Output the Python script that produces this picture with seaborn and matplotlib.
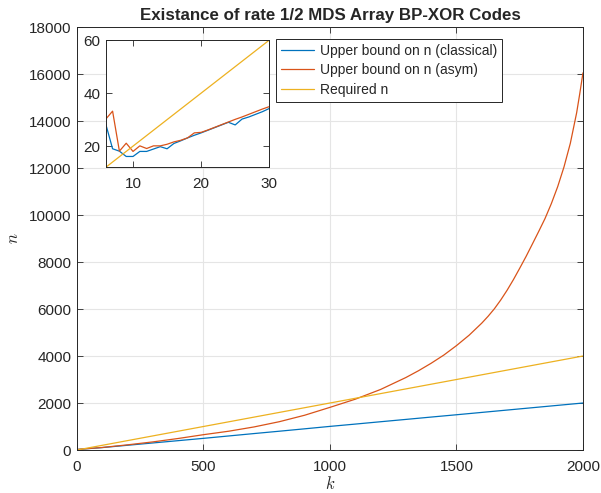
"""
Existance of rate 1/2 MDS Array BP-XOR Codes -- bound comparison with zoomed inset.
"""
import numpy as np
import pandas as pd
import matplotlib
matplotlib.use("Agg")
import matplotlib.pyplot as plt
import seaborn as sns

# ─── Data ────────────────────────────────────────────────────────────────────

k_main = [6, 100, 200, 300, 400, 500, 600, 700, 800, 900, 1000, 1100, 1200,
          1300, 1350, 1400, 1450, 1500, 1550, 1600, 1625, 1650, 1675, 1700,
          1725, 1750, 1775, 1800, 1825, 1850, 1875, 1900, 1925, 1950, 1975,
          1987, 2000]
n_classical = [28, 103, 202, 300, 398, 496, 598, 700, 800, 902, 1005, 1103,
               1203, 1302, 1352, 1402, 1451, 1500, 1550, 1600, 1625, 1650,
               1675, 1700, 1725, 1750, 1775, 1800, 1825, 1850, 1875, 1900,
               1925, 1950, 1975, 1987, 2000]
n_asym = [30, 108, 220, 345, 490, 652, 800, 982, 1205, 1480, 1815, 2162,
          2576, 3084, 3374, 3692, 4040, 4442, 4885, 5399, 5690, 6012, 6384,
          6796, 7248, 7735, 8234, 8765, 9300, 9850, 10485, 11204, 12046,
          13050, 14350, 15142, 16050]
n_required = [12, 200, 400, 600, 800, 1000, 1200, 1400, 1600, 1800, 2000,
              2200, 2400, 2600, 2700, 2800, 2900, 3000, 3100, 3200, 3250,
              3300, 3350, 3400, 3450, 3500, 3550, 3600, 3650, 3700, 3750,
              3800, 3850, 3900, 3950, 3974, 4000]

k_small = [6, 7, 8, 9, 10, 11, 12, 13, 14, 15, 16, 17, 18, 19, 20, 21, 22,
           23, 24, 25, 26, 27, 28, 29, 30]
n_classical_small = [28.3, 19.0, 18.1, 16.1, 16.1, 18.0, 18.0, 18.9, 19.8,
                     19.0, 21.0, 22.0, 23.1, 24.1, 25.0, 26.0, 27.0, 28.0,
                     29.0, 28.0, 30.2, 31.0, 32.0, 33.0, 34.2]
n_asym_small = [30.2, 33.2, 18.1, 21.1, 18.0, 20.1, 19.1, 20.1, 20.1, 20.7,
                21.6, 22.2, 23.1, 25.0, 25.2, 26.1, 27.1, 28.1, 29.1, 30.1,
                31.0, 32.0, 33.0, 34.0, 34.9]
n_required_small = [12, 14, 16, 18, 20, 22, 24, 26, 28, 30, 32, 34, 36, 38,
                    40, 42, 44, 46, 48, 50, 52, 54, 56, 58, 60]

labels = ["Upper bound on n (classical)", "Upper bound on n (asym)", "Required n"]
colors = ["#0072BD", "#D95319", "#EDB120"]

# ─── Style ───────────────────────────────────────────────────────────────────

sns.set_theme(style="white")
plt.rcParams["font.family"] = ["Liberation Sans", "DejaVu Sans"]
plt.rcParams["mathtext.fontset"] = "cm"

DARK = "#262626"


def style_axes(ax, fs=11):
    ax.tick_params(direction="in", length=4, width=0.6, labelsize=fs,
                   top=True, right=True, bottom=True, left=True,
                   colors=DARK, labelcolor=DARK)
    ax.tick_params(axis="x", pad=7)
    ax.tick_params(axis="y", pad=4)
    for s in ax.spines.values():
        s.set_linewidth(0.7)
        s.set_color(DARK)


def draw_series(ax, x, ys, with_labels):
    for y, lab, col in zip(ys, labels, colors):
        df = pd.DataFrame({"k": x, "n": y})
        sns.lineplot(data=df, x="k", y="n", ax=ax, color=col, linewidth=0.9,
                     label=lab if with_labels else None, legend=False)


# ─── Plot ────────────────────────────────────────────────────────────────────

fig = plt.figure(figsize=(6.01, 4.93), dpi=100)
ax = fig.add_axes([0.128, 0.0872, 0.842, 0.858])

draw_series(ax, k_main, [n_classical, n_asym, n_required], True)
ax.set_xlim(0, 2000)
ax.set_ylim(0, 18000)
ax.set_xticks([0, 500, 1000, 1500, 2000])
ax.set_yticks(np.arange(0, 18001, 2000))
ax.grid(True, color="#E5E5E5", linewidth=0.8)
ax.set_axisbelow(True)
style_axes(ax)
ax.set_xlabel(r"$k$", fontsize=12, color=DARK, labelpad=1)
ax.set_ylabel(r"$n$", fontsize=12, color=DARK, labelpad=6)
ax.set_title("Existance of rate 1/2 MDS Array BP-XOR Codes",
             fontsize=12.2, fontweight="bold", pad=5)

leg = ax.legend(loc="upper left", bbox_to_anchor=(0.393, 0.972),
                fontsize=10, frameon=True, fancybox=False, framealpha=1,
                edgecolor=DARK, handlelength=2.4, handletextpad=0.4,
                borderpad=0.35, labelspacing=0.4, borderaxespad=0)
leg.get_frame().set_linewidth(0.7)

# inset with small k
axin = fig.add_axes([0.176, 0.6606, 0.272, 0.258])
draw_series(axin, k_small,
            [n_classical_small, n_asym_small, n_required_small], False)
axin.set_xlim(6, 30)
axin.set_ylim(12, 60)
axin.set_xticks([10, 20, 30])
axin.set_yticks([20, 40, 60])
axin.set_xlabel("")
axin.set_ylabel("")
axin.set_facecolor("white")
style_axes(axin)

fig.savefig("out.png", dpi=100)
